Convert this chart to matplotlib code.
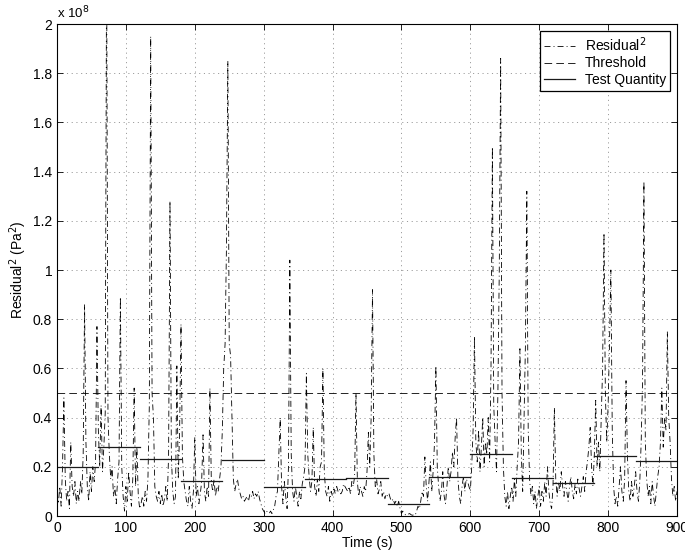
import numpy as np
import matplotlib
matplotlib.use("Agg")
import matplotlib.pyplot as plt
from matplotlib.ticker import FormatStrFormatter

plt.rcParams['font.family'] = ['Liberation Sans', 'DejaVu Sans']
plt.rcParams['lines.scale_dashes'] = False

# Residual^2 samples (units of 1e6 Pa^2), every 2 s, grouped per 60 s window
w0 = [8, 5, 12, 4, 20, 48, 15, 6, 10, 3, 30, 12, 8, 14, 5, 10, 6, 14, 9, 25, 86, 30, 12, 6, 18, 10, 20, 14, 22, 77]
w1 = [35, 20, 45, 18, 28, 42, 230, 40, 25, 15, 20, 8, 12, 5, 15, 22, 89, 20, 8, 2, 12, 6, 18, 10, 4, 15, 52, 12, 28, 8]
w2 = [3, 5, 8, 4, 10, 6, 15, 45, 195, 50, 40, 12, 8, 6, 10, 5, 9, 4, 7, 12, 6, 25, 128, 25, 10, 5, 8, 61, 15, 35]
w3 = [78, 25, 14, 10, 6, 4, 12, 6, 3, 10, 32, 8, 12, 5, 9, 14, 33, 10, 6, 12, 8, 52, 14, 10, 15, 8, 12, 10, 15, 20]
w4 = [35, 60, 70, 110, 185, 70, 65, 40, 15, 10, 13, 15, 11, 9, 7, 8, 6, 7, 8, 6, 9, 8, 10, 7, 9, 8, 10, 7, 5, 3]
w5 = [2, 1, 2, 1.5, 1, 2, 1, 2.5, 4, 8, 10, 25, 40, 12, 5, 14, 8, 3, 20, 104, 25, 10, 6, 12, 8, 4, 10, 7, 13, 16]
w6 = [20, 58, 25, 16, 10, 14, 36, 12, 8, 15, 10, 20, 22, 60, 18, 10, 8, 12, 6, 10, 8, 11, 9, 12, 10, 11, 9, 10, 13, 12]
w7 = [11, 10, 12, 9, 14, 12, 16, 50, 14, 8, 12, 10, 8, 12, 10, 18, 34, 20, 40, 92, 25, 12, 15, 9, 11, 14, 8, 10, 7, 9]
w8 = [8, 9, 7, 6, 7, 5, 6, 4, 6, 3, 1, 2, 1, 0.5, 1, 0.8, 1, 0.5, 0.3, 0.5, 0.3, 2, 4, 3, 6, 10, 8, 24, 12, 6]
w9 = [14, 22, 10, 18, 30, 61, 20, 12, 6, 10, 18, 8, 5, 12, 20, 14, 18, 26, 20, 32, 40, 15, 8, 5, 12, 16, 10, 15, 14, 12]
w10 = [10, 20, 35, 73, 30, 22, 35, 18, 28, 40, 20, 30, 25, 40, 22, 60, 150, 45, 30, 18, 50, 100, 186, 50, 20, 8, 4, 10, 3, 8]
w11 = [12, 6, 15, 8, 20, 30, 68, 25, 10, 40, 70, 132, 35, 15, 8, 12, 5, 10, 3, 8, 12, 4, 10, 6, 14, 8, 20, 10, 5, 3]
w12 = [12, 44, 15, 8, 14, 10, 18, 12, 8, 14, 10, 6, 12, 16, 10, 7, 13, 9, 15, 11, 8, 12, 16, 10, 18, 22, 28, 36, 20, 12]
w13 = [25, 47, 20, 30, 18, 40, 60, 115, 50, 30, 45, 70, 100, 35, 12, 5, 8, 4, 12, 20, 10, 6, 15, 55, 25, 10, 6, 14, 8, 12]
w14 = [18, 10, 6, 14, 30, 55, 136, 30, 15, 8, 12, 5, 14, 8, 4, 10, 16, 20, 30, 52, 28, 40, 35, 75, 40, 30, 15, 8, 12, 6, 10]

# Test quantity per 60 s window (units of 1e6 Pa^2)
test_quantity = [20, 28.2, 23, 14.4, 22.8, 11.9, 15.0, 15.3, 5.0, 16.0, 25.1, 15.4, 13.4, 24.5, 22.4]
window_edges = list(range(0, 901, 60))
threshold = 50.0

residual = np.array(w0 + w1 + w2 + w3 + w4 + w5 + w6 + w7 + w8 + w9 + w10 + w11 + w12 + w13 + w14) * 1e6 / 1e8
t = np.arange(len(residual)) * 2.0

fig = plt.figure(figsize=(6.85, 5.58), dpi=100)
ax = fig.add_axes([57/685, 42/558, 620/685, 492/558])

ax.plot(t, residual, color='black', lw=0.6, dashes=(4.3, 2.2, 0.7, 2.2), label='Residual$^2$')
ax.plot([0, 900], [threshold/100, threshold/100], color='black', lw=0.6, dashes=(5.5, 3.0), label='Threshold')
tq_x, tq_y = [], []
for i, v in enumerate(test_quantity):
    tq_x += [window_edges[i], window_edges[i+1], np.nan]
    tq_y += [v/100, v/100, np.nan]
ax.plot(tq_x, tq_y, color='0.1', lw=0.9, label='Test Quantity')

ax.set_xlim(0, 900)
ax.set_ylim(0, 2)
ax.set_xticks(np.arange(0, 901, 100))
ax.set_yticks(np.arange(0, 2.01, 0.2))
ax.yaxis.set_major_formatter(FormatStrFormatter('%g'))
ax.tick_params(direction='in', top=True, right=True, labelsize=10, length=4, width=0.6)
ax.grid(True, color='0.45', lw=0.5, dashes=(0.8, 2.6))
for s in ax.spines.values():
    s.set_linewidth(0.8)

ax.set_xlabel('Time (s)', fontsize=10, labelpad=1)
ax.set_ylabel('Residual$^2$ (Pa$^2$)', fontsize=10, labelpad=3)
ax.text(0.0, 1.005, 'x 10$^8$', transform=ax.transAxes, fontsize=9.5, ha='left', va='bottom')

leg = ax.legend(loc='upper right', fontsize=10, fancybox=False, framealpha=1,
                edgecolor='black', handlelength=2.2, handletextpad=0.7,
                borderpad=0.3, labelspacing=0.2, borderaxespad=0.5)
leg.get_frame().set_linewidth(0.9)

fig.savefig('out.png', dpi=100)
